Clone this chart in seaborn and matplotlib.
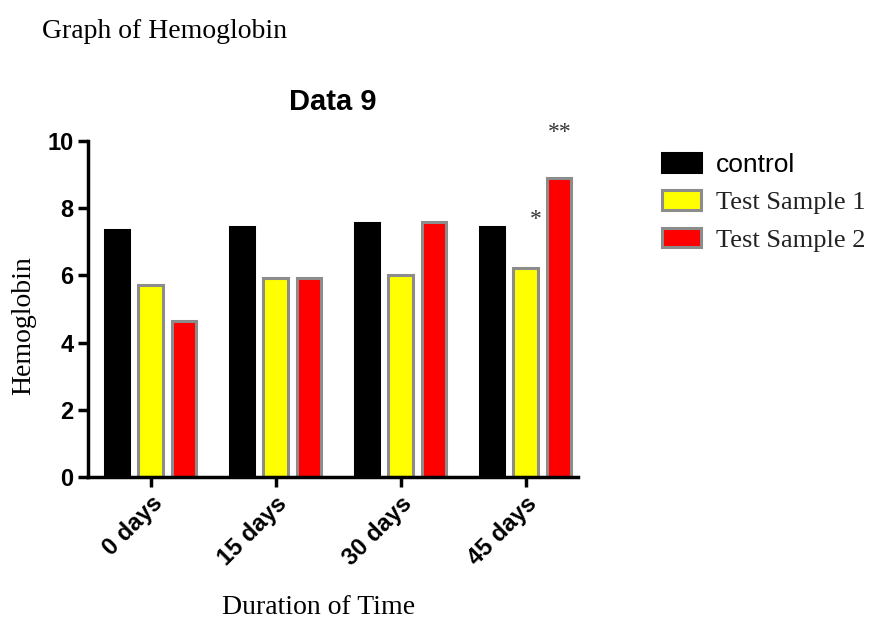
import pandas as pd
import seaborn as sns
import matplotlib.pyplot as plt
from matplotlib.patches import Patch

days = ["0 days", "15 days", "30 days", "45 days"]
groups = ["control", "Test Sample 1", "Test Sample 2"]
control = [7.35, 7.45, 7.55, 7.45]
sample1 = [5.72, 5.92, 6.02, 6.22]
sample2 = [4.65, 5.92, 7.58, 8.9]
colors = ["#000000", "#ffff00", "#ff0000"]
edges = ["#000000", "#8c8c8c", "#8c8c8c"]

rows = []
for g, vals in zip(groups, [control, sample1, sample2]):
    for d, v in zip(days, vals):
        rows.append({"Duration": d, "Hemoglobin": v, "Group": g})
df = pd.DataFrame(rows)

sns.set_style("ticks")
plt.rcParams["font.family"] = ["Liberation Sans", "DejaVu Sans"]
plt.rcParams["text.color"] = "black"
plt.rcParams["axes.labelcolor"] = "black"
plt.rcParams["xtick.color"] = "black"
plt.rcParams["ytick.color"] = "black"
plt.rcParams["axes.edgecolor"] = "black"

fig = plt.figure(figsize=(8.8, 6.23), dpi=100)
ax = fig.add_axes([0.1, 0.234, 0.557, 0.54])
sns.barplot(data=df, x="Duration", y="Hemoglobin", hue="Group", palette=colors,
            saturation=1, width=0.8, gap=0.27, ax=ax, legend=False)
for cont, ec in zip(ax.containers, edges):
    for bar in cont:
        bar.set_edgecolor(ec)
        bar.set_linewidth(2.2)

# significance marks
ax.text(3.08, 7.65, "*", ha="center", va="center", fontsize=17, color="#333333",
        family="Liberation Serif")
ax.text(3.27, 10.25, "**", ha="center", va="center", fontsize=17, color="#333333",
        family="Liberation Serif")

ax.set_ylim(0, 10)
ax.set_xlim(-0.5, 3.42)
ax.set_yticks([0, 2, 4, 6, 8, 10])
sns.despine(ax=ax)
for s in ["left", "bottom"]:
    ax.spines[s].set_linewidth(2.5)
ax.tick_params(axis="both", width=2.5, length=7, labelsize=17)
for lab in ax.get_yticklabels():
    lab.set_fontweight("bold")
for lab in ax.get_xticklabels():
    lab.set_fontweight("bold")
    lab.set_rotation(45)
    lab.set_ha("right")
    lab.set_rotation_mode("anchor")

ax.set_title("Data 9", fontsize=21, fontweight="bold", pad=22)
ax.set_xlabel("Duration of Time", family="Liberation Serif", fontsize=20)
ax.set_ylabel("Hemoglobin", family="Liberation Serif", fontsize=20)
ax.xaxis.set_label_coords(0.47, -0.35)
ax.yaxis.set_label_coords(-0.105, 0.45)

fig.text(0.048, 0.95, "Graph of Hemoglobin", family="Liberation Serif", fontsize=20,
         va="center")

handles = [Patch(facecolor=c, edgecolor=e, linewidth=2.2) for c, e in zip(colors, edges)]
leg = fig.legend(handles, groups, loc="upper left", bbox_to_anchor=(0.74, 0.772),
                 frameon=False, fontsize=19, handlelength=1.5, handleheight=0.75,
                 labelspacing=0.52, handletextpad=0.55, borderaxespad=0)
for i, t in enumerate(leg.get_texts()):
    if i > 0:
        t.set_family("Liberation Serif")
        t.set_color("#222222")

fig.savefig("out.png", dpi=100)
